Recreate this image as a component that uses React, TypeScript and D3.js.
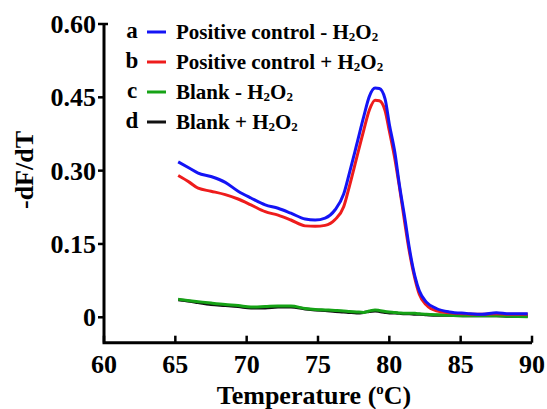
import React from 'react'
import * as d3 from 'd3'

// melt curve data
const temps = [65.2, 66, 66.6, 67.5, 68.5, 69.4, 70.3, 71.3, 72.2, 73.1, 74.1, 74.8, 75.5, 76.2, 76.8, 77.2, 77.7, 78.2, 78.6, 79.0, 79.3, 79.7, 80.0, 80.4, 80.7, 81.1, 81.4, 81.8, 82.1, 82.6, 83.3, 84.2, 85.4, 86.5, 87.5, 88.4, 89.7]

const posMinus = [0.318, 0.305, 0.295, 0.288, 0.276, 0.258, 0.244, 0.23, 0.223, 0.213, 0.201, 0.199, 0.203, 0.22, 0.252, 0.295, 0.352, 0.41, 0.452, 0.469, 0.468, 0.447, 0.395, 0.335, 0.272, 0.2, 0.142, 0.083, 0.054, 0.031, 0.018, 0.011, 0.008, 0.006, 0.0095, 0.007, 0.007]
const posPlus = [0.29, 0.276, 0.264, 0.258, 0.251, 0.242, 0.23, 0.216, 0.209, 0.199, 0.187, 0.186, 0.188, 0.2, 0.226, 0.268, 0.325, 0.382, 0.424, 0.444, 0.443, 0.423, 0.381, 0.322, 0.268, 0.19, 0.135, 0.078, 0.047, 0.025, 0.013, 0.009, 0.007, 0.006, 0.007, 0.006, 0.006]
const blankMinus = [0.037, 0.034, 0.032, 0.029, 0.026, 0.024, 0.021, 0.022, 0.023, 0.023, 0.018, 0.016, 0.015, 0.014, 0.013, 0.012, 0.011, 0.01, 0.013, 0.015, 0.014, 0.012, 0.011, 0.01, 0.009, 0.008, 0.008, 0.008, 0.007, 0.006, 0.005, 0.004, 0.003, 0.003, 0.003, 0.002, 0.001]
const blankPlus = [0.036, 0.033, 0.03, 0.026, 0.024, 0.022, 0.019, 0.019, 0.021, 0.021, 0.017, 0.015, 0.014, 0.012, 0.011, 0.01, 0.009, 0.01, 0.012, 0.013, 0.012, 0.01, 0.009, 0.009, 0.008, 0.007, 0.007, 0.006, 0.006, 0.005, 0.004, 0.004, 0.003, 0.003, 0.003, 0.002, 0.002]

const xTicks = [60, 65, 70, 75, 80, 85, 90]
const yTicks = [0, 0.15, 0.3, 0.45, 0.6]
const yTickLabels = ['0', '0.15', '0.30', '0.45', '0.60']

const legendKeys = ['a', 'b', 'c', 'd']
const legendNames = ['Positive control - ', 'Positive control + ', 'Blank - ', 'Blank + ']
const colors = ['#1414f5', '#ee1c1c', '#16a316', '#111111']
const seriesValues = [posMinus, posPlus, blankMinus, blankPlus]
const drawOrder = [3, 2, 1, 0]

const W = 547
const H = 409

export default function App() {
  const x = d3.scaleLinear().domain([60, 90]).range([104, 532])
  const y = d3.scaleLinear().domain([-0.052, 0.6]).range([342.7, 24])

  const line = d3
    .line<number>()
    .x((_, i) => x(temps[i]))
    .y(d => y(d))
    .curve(d3.curveMonotoneX)

  const x0 = x(60)
  const yBase = y(-0.052)

  return (
    <svg
      width={W}
      height={H}
      style={{position: 'absolute', left: 0, top: 0, background: '#fff', fontFamily: 'Liberation Serif', fontWeight: 'bold'}}
    >
      {/* curves */}
      {drawOrder.map(k => (
        <path key={k} d={line(seriesValues[k]) || ''} fill="none" stroke={colors[k]} strokeWidth={3} strokeLinejoin="round" />
      ))}

      {/* axes */}
      <path d={`M${x0},${y(0.6)} V${yBase} H${x(90)}`} fill="none" stroke="#000" strokeWidth={3} />
      {yTicks.map((t, i) => (
        <g key={t}>
          <line x1={x0 - 6} x2={x0 + (t === 0.6 ? 4 : 0)} y1={y(t)} y2={y(t)} stroke="#000" strokeWidth={2.5} />
          <text x={96} y={y(t) + 9} textAnchor="end" fontSize={26}>{yTickLabels[i]}</text>
        </g>
      ))}
      {xTicks.map(t => (
        <g key={t}>
          <line x1={x(t)} x2={x(t)} y1={yBase} y2={yBase - 7} stroke="#000" strokeWidth={2.5} />
          <text x={x(t)} y={373} textAnchor="middle" fontSize={26}>{t}</text>
        </g>
      ))}

      {/* axis titles */}
      <text x={314} y={404} textAnchor="middle" fontSize={26}>
        Temperature (<tspan fontSize={15} dy={-10}>o</tspan><tspan dy={10}>C)</tspan>
      </text>
      <text transform="translate(33,170) rotate(-90)" textAnchor="middle" fontSize={26}>-dF/dT</text>

      {/* legend */}
      {legendKeys.map((k, i) => {
        const cy = 32 + i * 30
        return (
          <g key={k}>
            <text x={132} y={cy + 6} textAnchor="middle" fontSize={23}>{k}</text>
            <line x1={147} x2={166} y1={cy} y2={cy} stroke={colors[i]} strokeWidth={3} />
            <text x={176} y={cy + 7} fontSize={21}>
              {legendNames[i]}H<tspan fontSize={13} dy={2}>2</tspan><tspan dy={-2}>O</tspan><tspan fontSize={13} dy={2}>2</tspan>
            </text>
          </g>
        )
      })}
    </svg>
  )
}
